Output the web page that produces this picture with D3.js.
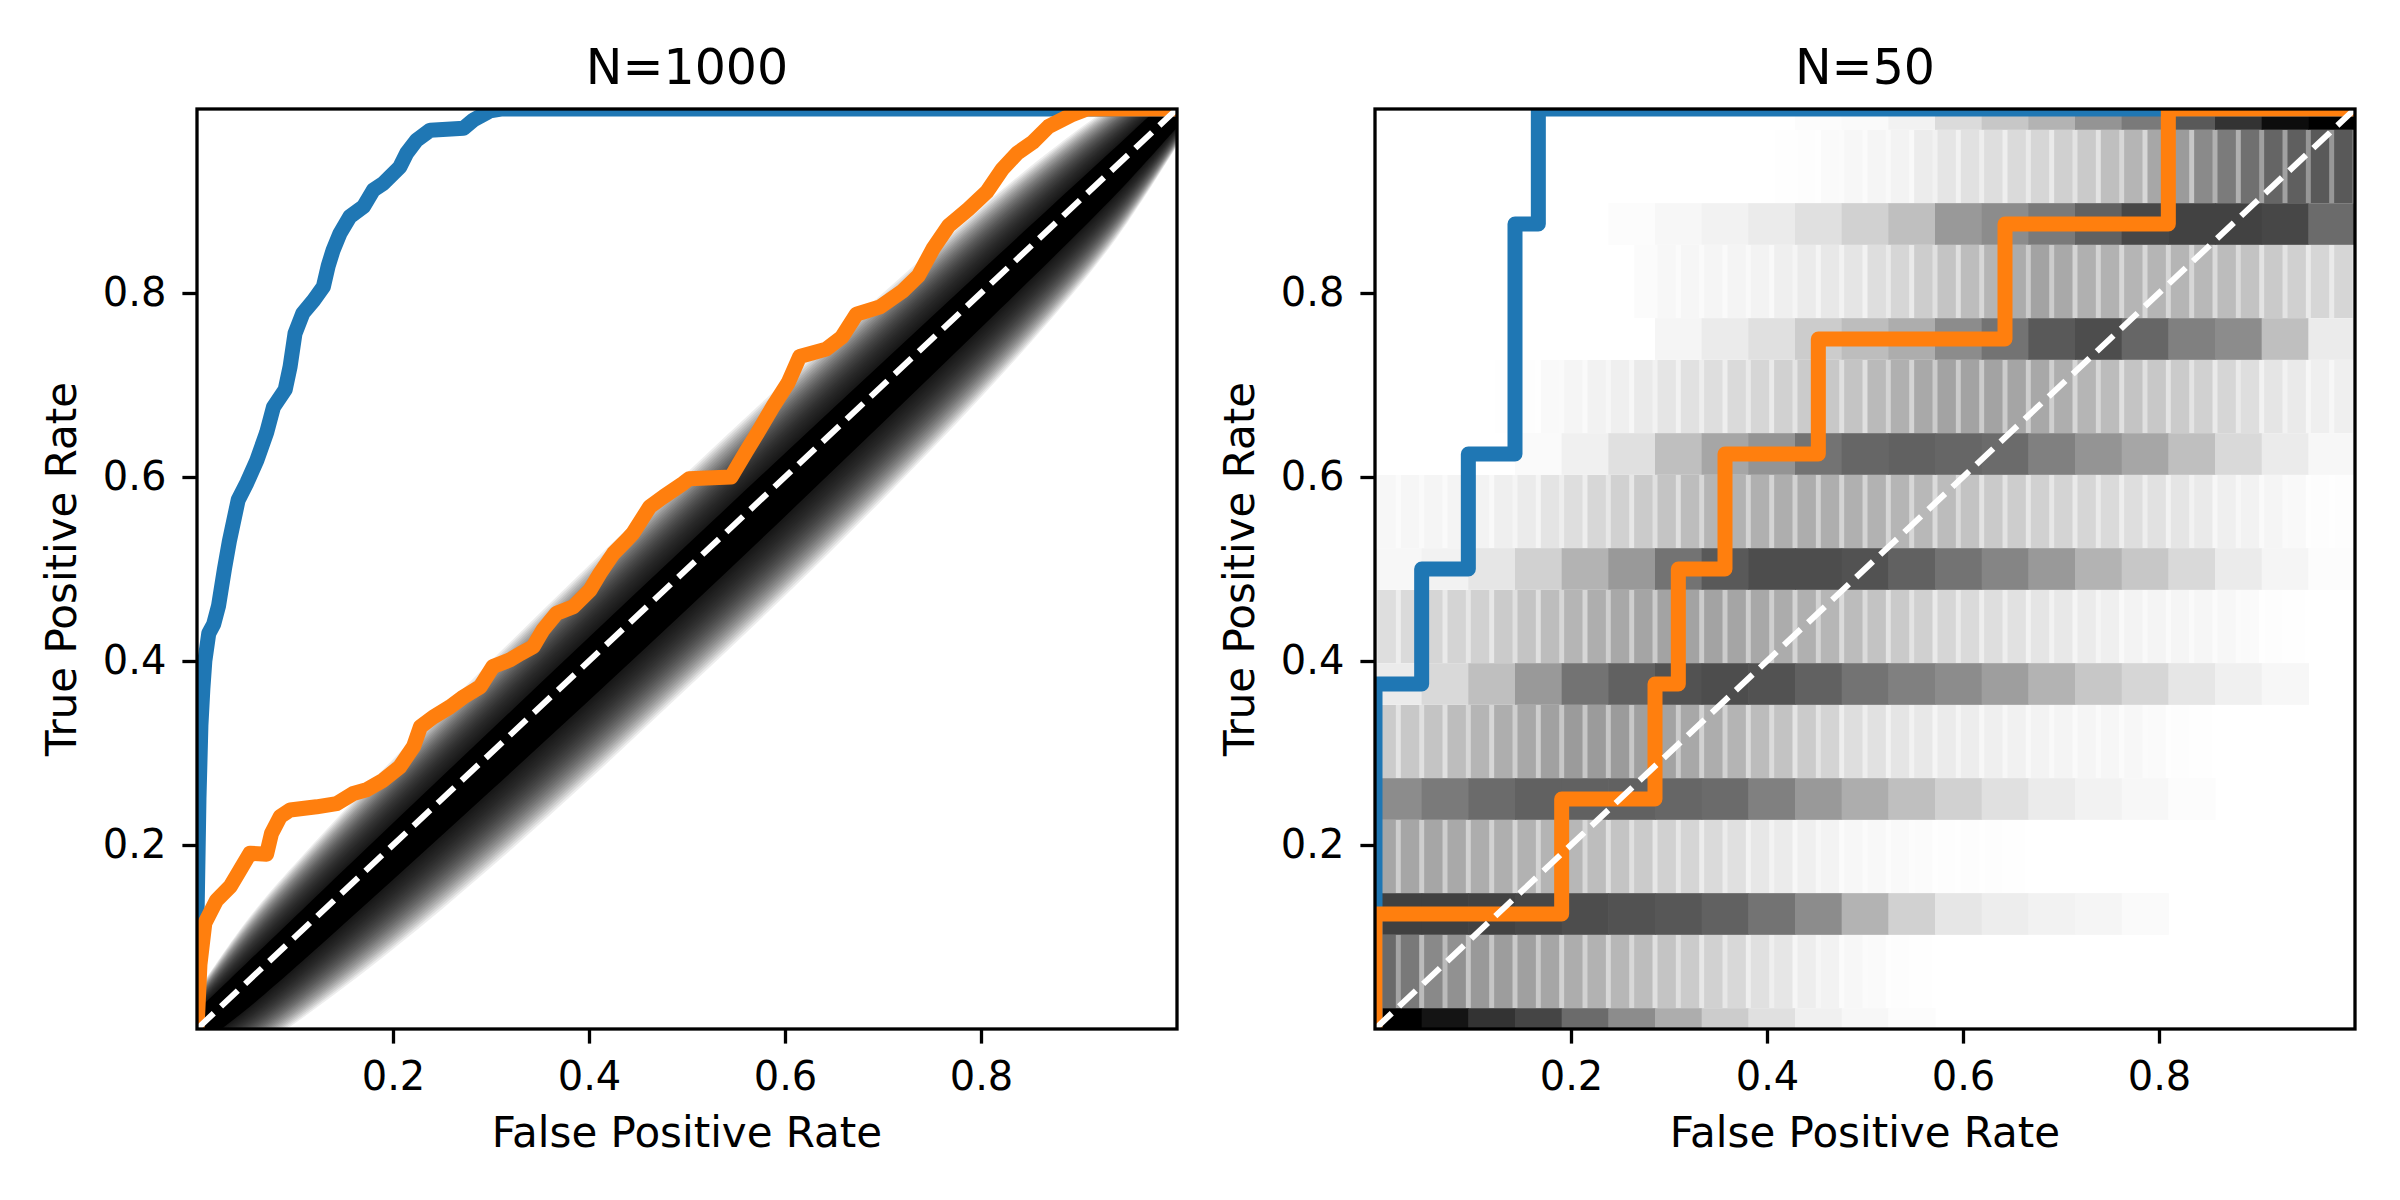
<!DOCTYPE html>
<html><head><meta charset="utf-8">
<script src="https://cdn.jsdelivr.net/npm/d3@7"></script>
<style>body{margin:0;background:#fff} svg text{font-family:"DejaVu Sans",sans-serif}</style>
</head><body><svg id="chart" width="2400" height="1200"></svg>
<script>
// ---------- data ----------
const titles = ["N=1000", "N=50"];
const tickValues = [0.2, 0.4, 0.6, 0.8];
const xLabel = "False Positive Rate";
const yLabel = "True Positive Rate";

// N=1000 ROC curves [FPR, TPR]
const blue1000 = [[0,0],[0.000,0.12],[0.002,0.25],[0.004,0.33],[0.006,0.37],[0.008,0.40],[0.012,0.43],[0.017,0.44],[0.022,0.46],[0.028,0.50],[0.033,0.53],[0.042,0.575],[0.051,0.594],[0.061,0.618],[0.071,0.648],[0.078,0.676],[0.09,0.695],[0.095,0.72],[0.1,0.756],[0.108,0.778],[0.119,0.792],[0.129,0.807],[0.134,0.83],[0.139,0.847],[0.146,0.865],[0.156,0.883],[0.17,0.894],[0.18,0.912],[0.19,0.919],[0.207,0.937],[0.214,0.952],[0.224,0.966],[0.238,0.977],[0.272,0.979],[0.282,0.988],[0.299,0.998],[0.31,1.0],[1,1]];
const orange1000 = [[0,0],[0.003,0.07],[0.008,0.115],[0.020,0.140],[0.034,0.155],[0.044,0.173],[0.054,0.191],[0.071,0.19],[0.076,0.2125],[0.085,0.231],[0.095,0.238],[0.122,0.2415],[0.1425,0.245],[0.1595,0.256],[0.173,0.26],[0.190,0.2705],[0.207,0.285],[0.221,0.307],[0.228,0.3285],[0.241,0.339],[0.258,0.35],[0.272,0.361],[0.289,0.372],[0.302,0.394],[0.319,0.401],[0.330,0.408],[0.343,0.4155],[0.353,0.4337],[0.367,0.452],[0.384,0.459],[0.401,0.477],[0.411,0.495],[0.425,0.517],[0.4385,0.5315],[0.445,0.539],[0.462,0.5677],[0.476,0.5786],[0.496,0.593],[0.502,0.598],[0.545,0.60],[0.560,0.627],[0.572,0.648],[0.588,0.677],[0.603,0.702],[0.615,0.731],[0.642,0.739],[0.658,0.752],[0.673,0.777],[0.697,0.785],[0.72,0.802],[0.736,0.8185],[0.751,0.848],[0.767,0.873],[0.787,0.891],[0.806,0.91],[0.822,0.935],[0.837,0.952],[0.853,0.964],[0.869,0.981],[0.892,0.9935],[0.908,1.0],[1,1]];

// N=1000 random-ROC band: vertical offsets from the diagonal (TPR units)
const bandX       = [0,    0.05,  0.1,   0.2,   0.3,   0.4,   0.5,   0.6,   0.7,   0.8,   0.9,   0.95,  1];
const bandCoreUp  = [0.02, 0.021, 0.022, 0.024, 0.025, 0.026, 0.026, 0.026, 0.025, 0.024, 0.022, 0.021, 0.02];
const bandCoreLo  = [0.02, 0.03,  0.034, 0.038, 0.041, 0.043, 0.044, 0.043, 0.041, 0.038, 0.034, 0.03,  0.02];
const bandOuterUp = [0.04, 0.07,  0.08,  0.095, 0.10,  0.105, 0.105, 0.105, 0.10,  0.095, 0.08,  0.065, 0.04];
const bandOuterLo = [0.04, 0.08,  0.095, 0.115, 0.125, 0.13,  0.13,  0.13,  0.125, 0.115, 0.095, 0.075, 0.04];

// N=50 ROC curves as step counts (42 negatives, 8 positives)
const nNeg = 42, nPos = 8;
const blue50FP = [0,0,2,2,4,4,6,6,7,7,42];
const blue50TP = [0,3,3,4,4,5,5,7,7,8,8];
const orange50FP = [0,0,8,8,12,12,13,13,15,15,19,19,27,27,34,34,42];
const orange50TP = [0,1,1,2,2,3,3,4,4,5,5,6,6,7,7,8,8];

// N=50 random-ROC density (darkness %, 21 FPR cells) on each TPR level k/8
const levelDark = [
  [100,92,80,73,58,45,32,20,12,6,3,1,0,0,0,0,0,0,0,0,0],
  [75,75,74,72,70,68,66,62,55,45,30,18,10,7,5,4,2,0,0,0,0],
  [45,52,58,62,62,62,60,58,50,40,32,25,18,12,8,5,3,1,0,0,0],
  [8,15,25,40,55,62,68,70,68,62,55,50,45,38,30,22,16,10,6,3,0],
  [3,5,10,18,30,40,55,65,70,70,68,62,55,48,40,30,22,15,8,4,1],
  [0,0,0,2,6,12,25,35,42,55,60,62,60,58,50,42,35,25,15,8,3],
  [0,0,0,0,0,0,4,8,12,20,26,32,45,55,65,70,60,50,45,25,8],
  [0,0,0,0,0,1,3,5,8,12,18,25,40,45,52,62,72,74,74,72,58],
  [0,0,0,0,0,0,0,0,0,1,2,5,14,22,30,42,52,65,80,95,100]
];
// ... and between levels k/8 and (k+1)/8
const gapDark = [
  [58,46,40,37,32,28,23,18,12,7,3,1,0,0,0,0,0,0,0,0,0],
  [35,35,32,30,28,23,18,14,9,6,3,2,1,1,0,0,0,0,0,0,0],
  [20,23,29,34,39,39,36,32,26,20,13,10,8,6,5,4,3,1,0,0,0],
  [13,16,18,23,29,34,36,36,34,31,26,21,16,13,10,8,5,4,3,1,0],
  [3,4,5,8,13,18,23,29,31,32,31,29,26,21,18,16,13,10,6,4,1],
  [0,0,0,1,4,6,10,13,16,20,23,31,36,36,34,29,23,20,16,10,6],
  [0,0,0,0,0,0,3,4,5,8,10,16,23,29,36,31,29,29,26,21,16],
  [0,0,0,0,0,0,0,0,0,1,3,5,10,13,16,21,29,39,52,60,65]
];

// ---------- layout / style ----------
const TOP = 109, BOTTOM = 1029, PW = 980;
const panelX = [197, 1375];
const BLUE = "#1f77b4", ORANGE = "#ff7f0e";
const LW = 15, BANDPX = 41.7;
const FONT = "DejaVu Sans, sans-serif";

const svg = d3.select("#chart");
const defs = svg.append("defs");

function makePanel(i) {
  const x0 = panelX[i];
  const x = d3.scaleLinear().domain([0, 1]).range([x0, x0 + PW]);
  const y = d3.scaleLinear().domain([0, 1]).range([BOTTOM, TOP]);
  defs.append("clipPath").attr("id", "clip" + i)
    .append("rect").attr("x", x0).attr("y", TOP).attr("width", PW).attr("height", BOTTOM - TOP);
  const g = svg.append("g");
  const plot = g.append("g").attr("clip-path", `url(#clip${i})`);
  return {x, y, g, plot, x0};
}

function drawCurve(p, pts, color) {
  const line = d3.line().x(d => p.x(d[0])).y(d => p.y(d[1]));
  p.plot.append("path").attr("d", line(pts)).attr("fill", "none")
    .attr("stroke", color).attr("stroke-width", LW)
    .attr("stroke-linejoin", "round").attr("stroke-linecap", "square");
}

function drawDiag(p) {
  p.plot.append("line")
    .attr("x1", p.x(0)).attr("y1", p.y(0)).attr("x2", p.x(1)).attr("y2", p.y(1))
    .attr("stroke", "#fff").attr("stroke-width", 6).attr("stroke-dasharray", "23,10");
}

function drawFrame(p, i) {
  const fmt = d3.format(".1f");
  const xa = p.g.append("g").attr("transform", `translate(0,${BOTTOM})`)
    .call(d3.axisBottom(p.x).tickValues(tickValues).tickSize(14.6).tickPadding(17.5).tickFormat(fmt));
  const ya = p.g.append("g").attr("transform", `translate(${p.x0},0)`)
    .call(d3.axisLeft(p.y).tickValues(tickValues).tickSize(14.6).tickPadding(16).tickFormat(fmt));
  [xa, ya].forEach(a => {
    a.select(".domain").remove();
    a.attr("font-size", 40).attr("font-family", FONT);
    a.selectAll("line").attr("stroke", "#000").attr("stroke-width", 3.3);
    a.selectAll("text").attr("fill", "#000");
  });
  p.g.append("rect").attr("x", p.x0).attr("y", TOP).attr("width", PW).attr("height", BOTTOM - TOP)
    .attr("fill", "none").attr("stroke", "#000").attr("stroke-width", 3.3);
  p.g.append("text").attr("x", p.x0 + PW / 2).attr("y", 84).attr("text-anchor", "middle")
    .attr("font-size", 49).attr("font-family", FONT).text(titles[i]);
  p.g.append("text").attr("x", p.x0 + PW / 2).attr("y", 1147).attr("text-anchor", "middle")
    .attr("font-size", 42).attr("font-family", FONT).text(xLabel);
  p.g.append("text").attr("transform", `translate(${p.x0 - 121},${(TOP + BOTTOM) / 2}) rotate(-90)`)
    .attr("text-anchor", "middle").attr("font-size", 42).attr("font-family", FONT).text(yLabel);
}

// ---------- left panel ----------
const pL = makePanel(0);
{
  const p = pL, L = 30;
  const layer = f => d3.area().curve(d3.curveBasis)
    .x((d, k) => p.x(bandX[k]))
    .y1((d, k) => p.y(bandX[k] + bandOuterUp[k] + (bandCoreUp[k] - bandOuterUp[k]) * f))
    .y0((d, k) => p.y(bandX[k] - (bandOuterLo[k] + (bandCoreLo[k] - bandOuterLo[k]) * f)));
  for (let i = 0; i < L; i++) {
    p.plot.append("path").attr("d", layer(i / (L - 1))(bandX)).attr("fill", "#000").attr("opacity", 0.07);
  }
  p.plot.append("path").attr("d", layer(1)(bandX)).attr("fill", "#000");
  drawCurve(p, blue1000, BLUE);
  drawCurve(p, orange1000, ORANGE);
  drawDiag(p);
  drawFrame(p, 0);
}

// ---------- right panel ----------
const pR = makePanel(1);
{
  const p = pR, cells = levelDark[0].length;
  gapDark.forEach((row, k) => {
    const yTop = p.y((k + 1) / nPos) + BANDPX / 2, yBot = p.y(k / nPos) - BANDPX / 2;
    defs.append("clipPath").attr("id", "gap" + k).append("rect")
      .attr("x", p.x(0)).attr("y", yTop).attr("width", PW).attr("height", yBot - yTop);
    const gg = p.plot.append("g").attr("clip-path", `url(#gap${k})`);
    d3.range(nNeg + 1).forEach(j => {
      const v = row[Math.min(cells - 1, Math.floor(j * cells / nNeg))] / 100;
      if (v <= 0) return;
      gg.append("rect").attr("x", p.x(j / nNeg) - BANDPX / 2).attr("y", yTop)
        .attr("width", BANDPX).attr("height", yBot - yTop)
        .attr("fill", "#000").attr("opacity", 1 - Math.sqrt(1 - v));
    });
  });
  levelDark.forEach((row, k) => {
    row.forEach((v, c) => {
      if (v <= 0) return;
      const gv = Math.round(255 * (1 - v / 100));
      p.plot.append("rect").attr("x", p.x(c / cells)).attr("width", p.x((c + 1) / cells) - p.x(c / cells) + 0.6)
        .attr("y", p.y(k / nPos) - BANDPX / 2).attr("height", BANDPX)
        .attr("fill", `rgb(${gv},${gv},${gv})`);
    });
  });
  const toPts = (fp, tp) => fp.map((f, i) => [f / nNeg, tp[i] / nPos]);
  drawCurve(p, toPts(blue50FP, blue50TP), BLUE);
  drawCurve(p, toPts(orange50FP, orange50TP), ORANGE);
  drawDiag(p);
  drawFrame(p, 1);
}
</script></body></html>
